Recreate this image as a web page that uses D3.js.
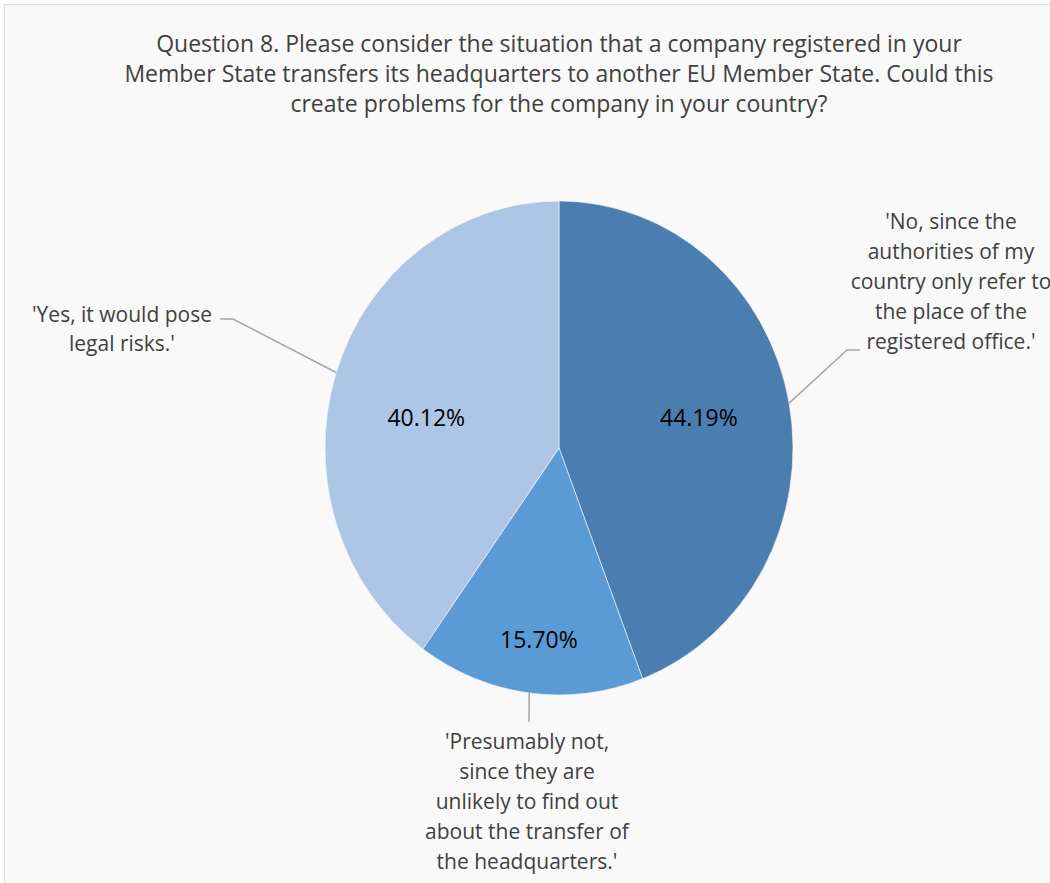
<!DOCTYPE html>
<html>
<head>
<meta charset="utf-8">
<script src="https://cdn.jsdelivr.net/npm/d3@7"></script>
<style>
  html, body { margin: 0; padding: 0; background: #ffffff; }
  svg { display: block; }
</style>
</head>
<body>
<svg id="chart" width="1050" height="883"></svg>
<script>
// ---- Data ----
const titleLines = [
  "Question 8. Please consider the situation that a company registered in your",
  "Member State transfers its headquarters to another EU Member State. Could this",
  "create problems for the company in your country?"
];
const categories = [
  "'No, since the authorities of my country only refer to the place of the registered office.'",
  "'Presumably not, since they are unlikely to find out about the transfer of the headquarters.'",
  "'Yes, it would pose legal risks.'"
];
const categoryLines = [
  ["'No, since the", "authorities of my", "country only refer to", "the place of the", "registered office.'"],
  ["'Presumably not,", "since they are", "unlikely to find out", "about the transfer of", "the headquarters.'"],
  ["'Yes, it would pose", "legal risks.'"]
];
const values = [44.19, 15.70, 40.12];
const valueLabels = ["44.19%", "15.70%", "40.12%"];

// ---- Styles / layout ----
const colors = ["#4a7eb0", "#5b9bd5", "#adc6e6"];
const W = 1050, H = 883;
const cx = 559, cy = 448, r = 234, sy = 247 / 234;
const labelRadiusFactor = [0.61, 0.78, 0.58];
const labelAngleShift = [-1, -1, -5.7].map(d => d * Math.PI / 180);
// leader line layout: elbow / end offsets relative to pie centre, text anchor
const leaderLayout = [
  { elbow: [288, -98], end: [301, -98], text: [392, -226], lineH: 30 },
  { elbow: null, end: [-30, 274], text: [-32, 294], lineH: 30 },
  { elbow: [-326, -129], end: [-339, -129], text: [-437, -133], lineH: 28.5 }
];
const fontFamily = "'Open Sans', 'Noto Sans', sans-serif";

const svg = d3.select("#chart");

// chart area
svg.append("rect")
  .attr("x", 4.5).attr("y", 4.5)
  .attr("width", W + 20).attr("height", H + 20)
  .attr("fill", "#f9f9f9")
  .attr("stroke", "#d9d9d9")
  .attr("stroke-width", 1);

// title
svg.append("text")
  .attr("text-anchor", "middle")
  .attr("font-family", fontFamily)
  .attr("font-size", 23)
  .attr("fill", "#404040")
  .selectAll("tspan")
  .data(titleLines)
  .join("tspan")
  .attr("x", cx)
  .attr("y", (d, i) => 44 + i * 30)
  .attr("dy", "0.35em")
  .text(d => d);

// pie
const pie = d3.pie().sort(null).value(d => d).startAngle(0).endAngle(2 * Math.PI);
const arcs = pie(values);
const arc = d3.arc().innerRadius(0).outerRadius(r);

const g = svg.append("g").attr("transform", `translate(${cx},${cy}) scale(1,${sy})`);
g.selectAll("path")
  .data(arcs)
  .join("path")
  .attr("d", arc)
  .attr("fill", (d, i) => colors[i])
  .attr("stroke", "#f9f9f9")
  .attr("stroke-width", 0.6)
  .attr("vector-effect", "non-scaling-stroke");

const pt = (a, rad) => [cx + rad * Math.sin(a), cy - rad * Math.cos(a) * sy];
const mid = d => (d.startAngle + d.endAngle) / 2;

// value labels
svg.append("g")
  .selectAll("text")
  .data(arcs)
  .join("text")
  .attr("x", (d, i) => pt(mid(d) + labelAngleShift[i], r * labelRadiusFactor[i])[0])
  .attr("y", (d, i) => pt(mid(d) + labelAngleShift[i], r * labelRadiusFactor[i])[1])
  .attr("dy", "0.35em")
  .attr("text-anchor", "middle")
  .attr("font-family", fontFamily)
  .attr("font-size", 23)
  .attr("fill", "#000000")
  .text((d, i) => valueLabels[i]);

// leader lines
const line = d3.line();
svg.append("g")
  .selectAll("path")
  .data(arcs)
  .join("path")
  .attr("d", (d, i) => {
    const L = leaderLayout[i];
    const pts = [pt(mid(d), r)];
    if (L.elbow) pts.push([cx + L.elbow[0], cy + L.elbow[1]]);
    pts.push([cx + L.end[0], cy + L.end[1]]);
    return line(pts);
  })
  .attr("fill", "none")
  .attr("stroke", "#a6a6a6")
  .attr("stroke-width", 1.5);

// category labels
arcs.forEach((d, i) => {
  const L = leaderLayout[i];
  svg.append("text")
    .attr("text-anchor", "middle")
    .attr("font-family", fontFamily)
    .attr("font-size", 21)
    .attr("fill", "#404040")
    .selectAll("tspan")
    .data(categoryLines[i])
    .join("tspan")
    .attr("x", cx + L.text[0])
    .attr("y", (t, j) => cy + L.text[1] + j * L.lineH)
    .attr("dy", "0.35em")
    .text(t => t);
});
</script>
</body>
</html>
